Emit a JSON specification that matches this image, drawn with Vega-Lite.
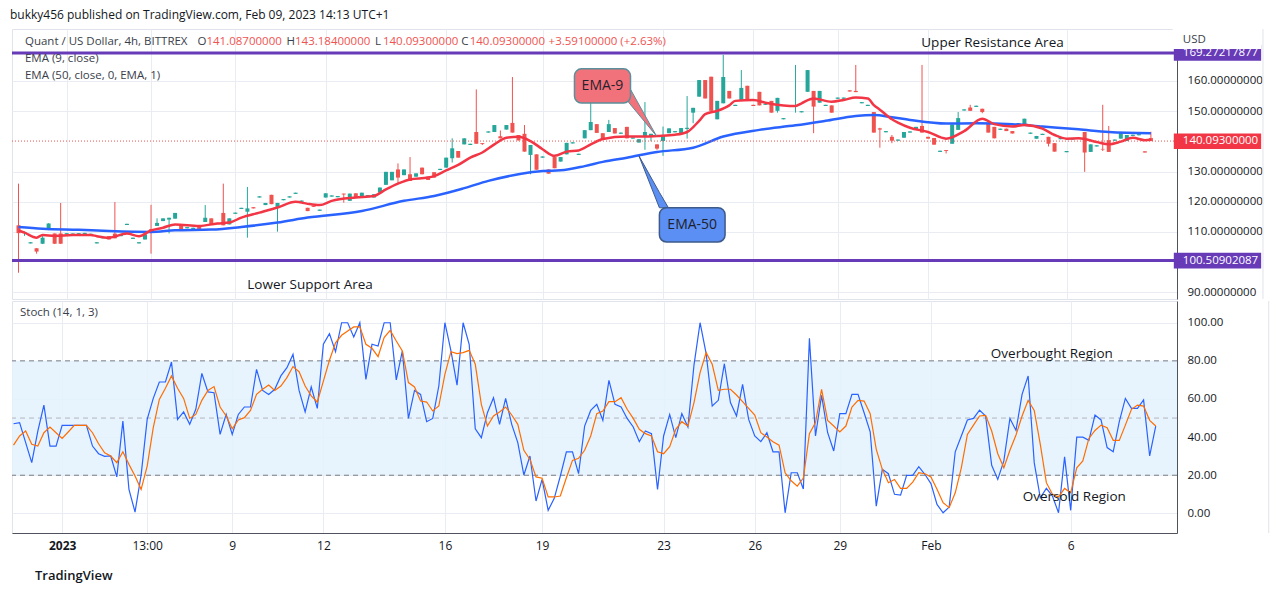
{
"$schema": "https://vega.github.io/schema/vega-lite/v6.json",
"background": "white",
"padding": {"left": 10, "top": 9, "right": 0, "bottom": 0},
"title": {"text": "bukky456 published on TradingView.com, Feb 09, 2023 14:13 UTC+1", "anchor": "start", "fontSize": 12, "fontWeight": "normal", "color": "#131722", "font": "Open Sans", "offset": 6},
"spacing": 0,
"data": {"values": [{}]},
"datasets": {
"bars": [
{"i":0,"o":112.2,"h":126,"l":96.5,"c":109.6,"k":47,"d":35.8},
{"i":1,"o":109.6,"h":110.2,"l":108.7,"c":110,"k":47.6,"d":40.6},
{"i":2,"o":106.2,"h":106.6,"l":106.2,"c":106.6,"k":37.1,"d":43.2},
{"i":3,"o":104.6,"h":104.6,"l":102.8,"c":103.5,"k":26.6,"d":36.2},
{"i":4,"o":106.1,"h":109.2,"l":106,"c":108.1,"k":43.2,"d":35.3},
{"i":5,"o":110.8,"h":112.9,"l":110.6,"c":112.8,"k":56.8,"d":42.3},
{"i":6,"o":109.5,"h":109.5,"l":106,"c":106.1,"k":35.3,"d":45.3},
{"i":7,"o":109.5,"h":119.6,"l":106,"c":106.1,"k":35.3,"d":42.3},
{"i":8,"o":109.2,"h":109.6,"l":109.2,"c":109.6,"k":46.2,"d":39.3},
{"i":9,"o":109.1,"h":109.5,"l":109.1,"c":109.5,"k":46.2,"d":42.7},
{"i":10,"o":109.2,"h":109.6,"l":109.2,"c":109.6,"k":46.2,"d":46.2},
{"i":11,"o":109.3,"h":109.7,"l":109.3,"c":109.7,"k":46.2,"d":46.2},
{"i":12,"o":109,"h":109.4,"l":109,"c":109.4,"k":46.2,"d":46.2},
{"i":13,"o":106.2,"h":106.6,"l":106.2,"c":106.6,"k":35.3,"d":42.3},
{"i":14,"o":107.9,"h":108.3,"l":107.9,"c":108.3,"k":31.3,"d":36.5},
{"i":15,"o":108.6,"h":108.6,"l":107.5,"c":107.5,"k":29.9,"d":31.8},
{"i":16,"o":109.45,"h":119.9,"l":107.9,"c":107.9,"k":30.1,"d":30.1},
{"i":17,"o":108.6,"h":109,"l":108.6,"c":109,"k":19.1,"d":26.6},
{"i":18,"o":112.3,"h":112.7,"l":112.3,"c":112.7,"k":48.4,"d":32.3},
{"i":19,"o":107.7,"h":108.1,"l":107.7,"c":108.1,"k":12.6,"d":25.7},
{"i":20,"o":106.2,"h":106.6,"l":106.2,"c":106.6,"k":0.7,"d":19.6},
{"i":21,"o":107.5,"h":109.2,"l":107.5,"c":109.2,"k":20.1,"d":12.6},
{"i":22,"o":110.9,"h":119,"l":102.8,"c":110.5,"k":49.3,"d":24.8},
{"i":23,"o":112,"h":114.5,"l":112,"c":113,"k":60.3,"d":45},
{"i":24,"o":113.6,"h":114.5,"l":113.6,"c":114.5,"k":68.9,"d":59.8},
{"i":25,"o":114.1,"h":114.7,"l":109.5,"c":114.7,"k":68.9,"d":65.6},
{"i":26,"o":114.4,"h":116.3,"l":114.4,"c":116.3,"k":79.4,"d":72.1},
{"i":27,"o":112.2,"h":112.2,"l":110.6,"c":110.6,"k":49.3,"d":65.6},
{"i":28,"o":111.2,"h":111.6,"l":111.2,"c":111.6,"k":53.2,"d":60.3},
{"i":29,"o":111,"h":111.4,"l":111,"c":111.4,"k":46.7,"d":49.8},
{"i":30,"o":112,"h":112,"l":111,"c":111,"k":54.6,"d":51.9},
{"i":31,"o":113.3,"h":118.9,"l":113.3,"c":114.7,"k":73.4,"d":59.3},
{"i":32,"o":114.5,"h":114.5,"l":112.5,"c":112.5,"k":63.7,"d":64.5},
{"i":33,"o":113,"h":113,"l":112.6,"c":112.6,"k":63.3,"d":66.5},
{"i":34,"o":116.3,"h":126,"l":112.2,"c":112.2,"k":41.4,"d":55.8},
{"i":35,"o":112.5,"h":114.5,"l":112.5,"c":114.5,"k":51.9,"d":51.1},
{"i":36,"o":116,"h":116.4,"l":116,"c":116.4,"k":41.4,"d":44.4},
{"i":37,"o":117.6,"h":118,"l":117.6,"c":118,"k":51.9,"d":49},
{"i":38,"o":116.7,"h":124.9,"l":108.1,"c":117.8,"k":55.8,"d":50.2},
{"i":39,"o":118.2,"h":118.2,"l":117.8,"c":117.8,"k":55.8,"d":54},
{"i":40,"o":121.4,"h":121.8,"l":121.4,"c":121.8,"k":75.5,"d":62.4},
{"i":41,"o":118.9,"h":119.6,"l":118.9,"c":119.6,"k":64.5,"d":65.1},
{"i":42,"o":122.3,"h":122.3,"l":119.2,"c":119.2,"k":62.4,"d":67.3},
{"i":43,"o":118.3,"h":119.6,"l":110.1,"c":119.6,"k":65.1,"d":64.5},
{"i":44,"o":120.5,"h":120.9,"l":120.5,"c":120.9,"k":72.1,"d":66.8},
{"i":45,"o":121.4,"h":121.8,"l":121.4,"c":121.8,"k":76.4,"d":71.2},
{"i":46,"o":122.6,"h":123,"l":122.6,"c":123,"k":83.4,"d":77},
{"i":47,"o":120,"h":120.4,"l":120,"c":120.4,"k":64.5,"d":74.3},
{"i":48,"o":118,"h":118,"l":116.9,"c":116.9,"k":53.2,"d":66.8},
{"i":49,"o":118.7,"h":118.7,"l":118.3,"c":118.3,"k":66.3,"d":61.6},
{"i":50,"o":117,"h":117.4,"l":117,"c":117.4,"k":55.1,"d":58.4},
{"i":51,"o":121.4,"h":122.8,"l":121.4,"c":122.8,"k":88.7,"d":69.4},
{"i":52,"o":121.7,"h":122.1,"l":121.7,"c":122.1,"k":94.3,"d":80.3},
{"i":53,"o":121.5,"h":121.9,"l":121.5,"c":121.9,"k":84.8,"d":89.5},
{"i":54,"o":122.7,"h":122.7,"l":119.7,"c":122.4,"k":100,"d":93.4},
{"i":55,"o":120.3,"h":122.7,"l":120.3,"c":122.7,"k":100,"d":95.7},
{"i":56,"o":122.8,"h":122.8,"l":121.4,"c":121.4,"k":92.5,"d":97.8},
{"i":57,"o":121.6,"h":123,"l":121.6,"c":123,"k":100,"d":97.8},
{"i":58,"o":121.8,"h":122.2,"l":121.8,"c":122.2,"k":70.3,"d":88.7},
{"i":59,"o":121.4,"h":122.5,"l":121.4,"c":122.5,"k":88.7,"d":86.6},
{"i":60,"o":123,"h":124.7,"l":123,"c":124.7,"k":87.8,"d":82.2},
{"i":61,"o":125.6,"h":129.9,"l":125.6,"c":129.9,"k":100,"d":92.2},
{"i":62,"o":127.1,"h":129.9,"l":127.1,"c":129.9,"k":100,"d":96},
{"i":63,"o":130.7,"h":132.7,"l":125.8,"c":128,"k":70,"d":90.4},
{"i":64,"o":128.8,"h":130.7,"l":128.8,"c":130.7,"k":85.2,"d":85.2},
{"i":65,"o":129.1,"h":134.8,"l":126.9,"c":126.9,"k":49.8,"d":68.6},
{"i":66,"o":128.3,"h":129.4,"l":128.3,"c":129.4,"k":64.5,"d":66.3},
{"i":67,"o":131.3,"h":131.3,"l":129.1,"c":129.1,"k":62.4,"d":58.9},
{"i":68,"o":128.3,"h":128.3,"l":127.2,"c":127.2,"k":48.1,"d":58.4},
{"i":69,"o":129.8,"h":129.8,"l":128,"c":128,"k":49.8,"d":53.7},
{"i":70,"o":130.5,"h":130.9,"l":130.5,"c":130.9,"k":66.8,"d":56.3},
{"i":71,"o":131.3,"h":134.6,"l":131.3,"c":134.6,"k":100,"d":72.9},
{"i":72,"o":134.4,"h":141,"l":133,"c":137.7,"k":85.2,"d":84.8},
{"i":73,"o":136.8,"h":136.8,"l":134.6,"c":134.6,"k":67.3,"d":83.8},
{"i":74,"o":139,"h":141,"l":139,"c":141,"k":100,"d":84.3},
{"i":75,"o":138.8,"h":139.2,"l":138.8,"c":139.2,"k":88.7,"d":85.5},
{"i":76,"o":143.1,"h":157.2,"l":139.2,"c":139.2,"k":44.4,"d":78.2},
{"i":77,"o":139.4,"h":139.4,"l":138.8,"c":139.1,"k":39.7,"d":57.2},
{"i":78,"o":142.9,"h":143.3,"l":142.9,"c":143.3,"k":52.8,"d":45.8},
{"i":79,"o":143.1,"h":145.4,"l":143.1,"c":145.4,"k":60.7,"d":51.1},
{"i":80,"o":141.7,"h":143.6,"l":141,"c":141,"k":46.7,"d":53.2},
{"i":81,"o":143.9,"h":145.4,"l":143.9,"c":145.4,"k":60.3,"d":55.8},
{"i":82,"o":146.1,"h":161.3,"l":142.9,"c":142.9,"k":46.7,"d":51.6},
{"i":83,"o":142.1,"h":142.1,"l":140.3,"c":140.3,"k":37.1,"d":46.7},
{"i":84,"o":142.5,"h":145.4,"l":136.6,"c":136.6,"k":20.1,"d":33.1},
{"i":85,"o":135.5,"h":138.8,"l":129.1,"c":138.8,"k":30.1,"d":28.3},
{"i":86,"o":135.7,"h":135.7,"l":130.6,"c":130.6,"k":6.5,"d":19.1},
{"i":87,"o":134.6,"h":135,"l":134.6,"c":135,"k":17.8,"d":18.4},
{"i":88,"o":130.7,"h":130.7,"l":129.3,"c":129.3,"k":1.6,"d":8.6},
{"i":89,"o":134.8,"h":134.8,"l":131.1,"c":131.1,"k":7.9,"d":8.6},
{"i":90,"o":133.3,"h":134.8,"l":133.3,"c":134.8,"k":19.6,"d":9.1},
{"i":91,"o":135.7,"h":139.5,"l":135.7,"c":139.5,"k":32.3,"d":18.7},
{"i":92,"o":139.3,"h":139.7,"l":139.3,"c":139.7,"k":32.3,"d":27.8},
{"i":93,"o":135.5,"h":135.9,"l":135.5,"c":135.9,"k":20.8,"d":28.9},
{"i":94,"o":141,"h":143.7,"l":141,"c":143.7,"k":45.8,"d":33.1},
{"i":95,"o":143.7,"h":152.8,"l":143.7,"c":146.4,"k":54,"d":40.6},
{"i":96,"o":145.7,"h":145.7,"l":142.8,"c":142.8,"k":57.2,"d":52.3},
{"i":97,"o":142.7,"h":142.7,"l":140.5,"c":140.5,"k":48.8,"d":53.7},
{"i":98,"o":143.1,"h":147.1,"l":143.1,"c":145.7,"k":69.8,"d":58.6},
{"i":99,"o":144.4,"h":144.4,"l":142.6,"c":142.6,"k":57.2,"d":58.6},
{"i":100,"o":142.5,"h":142.9,"l":142.5,"c":142.9,"k":55.8,"d":60.7},
{"i":101,"o":144.8,"h":144.8,"l":141,"c":141,"k":49.8,"d":54.6},
{"i":102,"o":140.9,"h":141.3,"l":140.9,"c":141.3,"k":45.3,"d":49.8},
{"i":103,"o":139.6,"h":140.7,"l":139.6,"c":140.7,"k":37.6,"d":44.1},
{"i":104,"o":141.8,"h":153,"l":137.2,"c":143.1,"k":43.2,"d":41.8},
{"i":105,"o":141.8,"h":142.5,"l":140,"c":142.5,"k":41.8,"d":40.6},
{"i":106,"o":139,"h":139,"l":137.2,"c":137.6,"k":12.6,"d":32.3},
{"i":107,"o":140.1,"h":144.9,"l":135.2,"c":141.8,"k":40.6,"d":31.3},
{"i":108,"o":142.7,"h":144.3,"l":142.7,"c":144.3,"k":51.9,"d":35},
{"i":109,"o":143,"h":143.4,"l":143,"c":143.4,"k":39.7,"d":44.1},
{"i":110,"o":142.7,"h":144.4,"l":142.7,"c":144.4,"k":52.3,"d":48.1},
{"i":111,"o":144.1,"h":155,"l":140.9,"c":144.5,"k":45.3,"d":45.8},
{"i":112,"o":149.5,"h":151.1,"l":146,"c":151.1,"k":77.8,"d":58.1},
{"i":113,"o":154.8,"h":160.3,"l":154.8,"c":160.3,"k":100,"d":73.8},
{"i":114,"o":160.3,"h":160.3,"l":154.2,"c":154.2,"k":83.8,"d":84.3},
{"i":115,"o":161.4,"h":161.4,"l":150.1,"c":150.1,"k":56.3,"d":78.2},
{"i":116,"o":147.3,"h":153.4,"l":147.3,"c":153.4,"k":59.3,"d":64.5},
{"i":117,"o":152.6,"h":168.6,"l":152.6,"c":161.3,"k":78.5,"d":65.1},
{"i":118,"o":156.7,"h":156.7,"l":154.2,"c":154.2,"k":58.1,"d":65.1},
{"i":119,"o":151.7,"h":152.1,"l":151.7,"c":152.1,"k":51.1,"d":62.1},
{"i":120,"o":153.7,"h":163.6,"l":153.7,"c":157.7,"k":67.7,"d":58.6},
{"i":121,"o":158.4,"h":158.4,"l":153.9,"c":153.9,"k":49.3,"d":55.1},
{"i":122,"o":152.1,"h":152.1,"l":151.7,"c":151.7,"k":40.6,"d":51.6},
{"i":123,"o":156.4,"h":156.4,"l":151.9,"c":151.9,"k":37.6,"d":42.3},
{"i":124,"o":152.1,"h":152.5,"l":152.1,"c":152.5,"k":42.3,"d":40.1},
{"i":125,"o":153.4,"h":153.4,"l":149.5,"c":149.5,"k":32.3,"d":37.6},
{"i":126,"o":150.1,"h":154.4,"l":149.5,"c":154.4,"k":32.3,"d":35.8},
{"i":127,"o":147.3,"h":147.7,"l":147.3,"c":147.7,"k":0.3,"d":21.3},
{"i":128,"o":151.5,"h":151.9,"l":151.5,"c":151.9,"k":21.3,"d":17.1},
{"i":129,"o":151.6,"h":165.3,"l":149.5,"c":152,"k":21.3,"d":14.3},
{"i":130,"o":149.6,"h":150,"l":149.6,"c":150,"k":12.8,"d":18.5},
{"i":131,"o":156.4,"h":163.6,"l":156.4,"c":163.6,"k":91.8,"d":41.8},
{"i":132,"o":156.7,"h":156.7,"l":142.7,"c":151.5,"k":40.6,"d":47.6},
{"i":133,"o":152.8,"h":156.7,"l":152.8,"c":156.7,"k":61.9,"d":65.1},
{"i":134,"o":151.7,"h":152.1,"l":151.7,"c":152.1,"k":42.3,"d":48.8},
{"i":135,"o":151.9,"h":151.9,"l":149.5,"c":149.5,"k":32.7,"d":45.8},
{"i":136,"o":154.1,"h":154.5,"l":154.1,"c":154.5,"k":52.3,"d":42.7},
{"i":137,"o":154.1,"h":154.5,"l":154.1,"c":154.5,"k":52.3,"d":45.8},
{"i":138,"o":156.9,"h":156.9,"l":156.5,"c":156.5,"k":62.4,"d":55.8},
{"i":139,"o":156.7,"h":165.3,"l":156.3,"c":156.3,"k":62.4,"d":59.3},
{"i":140,"o":152.6,"h":153,"l":152.6,"c":153,"k":52.8,"d":58.9},
{"i":141,"o":151.7,"h":152.1,"l":151.7,"c":152.1,"k":42.8,"d":52.3},
{"i":142,"o":149.7,"h":149.7,"l":142.9,"c":142.9,"k":3.8,"d":33.6},
{"i":143,"o":144.3,"h":144.5,"l":137.9,"c":143.9,"k":23.1,"d":23.1},
{"i":144,"o":143,"h":143.4,"l":143,"c":143.4,"k":20.8,"d":16.1},
{"i":145,"o":141.5,"h":142.1,"l":139.4,"c":140.2,"k":10,"d":17.8},
{"i":146,"o":140.2,"h":140.6,"l":140.2,"c":140.6,"k":9.6,"d":13.1},
{"i":147,"o":141.2,"h":143.1,"l":141.2,"c":143.1,"k":19.9,"d":13.1},
{"i":148,"o":142.9,"h":143.3,"l":142.9,"c":143.3,"k":19.9,"d":16.4},
{"i":149,"o":144,"h":144.8,"l":144,"c":144.8,"k":24.5,"d":21.3},
{"i":150,"o":145.1,"h":165.3,"l":142.9,"c":142.9,"k":20.5,"d":20.8},
{"i":151,"o":141.5,"h":141.5,"l":140.9,"c":140.9,"k":15.6,"d":19.1},
{"i":152,"o":141.1,"h":141.1,"l":138.9,"c":138.9,"k":4.7,"d":12.6},
{"i":153,"o":136.5,"h":136.9,"l":136.5,"c":136.9,"k":0.3,"d":5.6},
{"i":154,"o":137.1,"h":137.1,"l":136,"c":136.8,"k":3.3,"d":3},
{"i":155,"o":139.2,"h":145.6,"l":139.2,"c":145.6,"k":32.3,"d":10.8},
{"i":156,"o":143.8,"h":149.7,"l":143.8,"c":147.7,"k":40.6,"d":23.9},
{"i":157,"o":150.2,"h":150.6,"l":150.2,"c":150.6,"k":49,"d":41.4},
{"i":158,"o":151.2,"h":152.1,"l":150.1,"c":150.1,"k":49.8,"d":46.3},
{"i":159,"o":151.4,"h":151.8,"l":151.4,"c":151.8,"k":54.2,"d":51.1},
{"i":160,"o":150.8,"h":150.8,"l":149.3,"c":149.7,"k":51.1,"d":51.4},
{"i":161,"o":146.2,"h":146.2,"l":142.9,"c":142.9,"k":25.2,"d":43.2},
{"i":162,"o":144.8,"h":144.8,"l":141,"c":141,"k":17.8,"d":31.3},
{"i":163,"o":143.8,"h":144.2,"l":143.8,"c":144.2,"k":27.5,"d":23.9},
{"i":164,"o":144.2,"h":144.2,"l":143.4,"c":143.4,"k":49.8,"d":33.1},
{"i":165,"o":143.4,"h":143.4,"l":142.6,"c":142.6,"k":43.5,"d":41.1},
{"i":166,"o":145.1,"h":146,"l":145.1,"c":146,"k":62.4,"d":51.1},
{"i":167,"o":145.7,"h":147.5,"l":145.7,"c":147.5,"k":72.1,"d":59.3},
{"i":168,"o":142.5,"h":142.9,"l":142.5,"c":142.9,"k":26.6,"d":54},
{"i":169,"o":140.9,"h":141.8,"l":140.9,"c":141.8,"k":8.2,"d":36.2},
{"i":170,"o":142.1,"h":142.5,"l":142.1,"c":142.5,"k":13.1,"d":16.1},
{"i":171,"o":141.5,"h":141.5,"l":138.3,"c":139.2,"k":9.1,"d":10},
{"i":172,"o":139.4,"h":139.4,"l":136.6,"c":136.6,"k":0.3,"d":8.6},
{"i":173,"o":140.7,"h":141.1,"l":140.7,"c":141.1,"k":29.6,"d":13.1},
{"i":174,"o":136.4,"h":136.8,"l":136.4,"c":136.8,"k":1.6,"d":10.8},
{"i":175,"o":140.6,"h":141,"l":140.6,"c":141,"k":40,"d":23.9},
{"i":176,"o":140.8,"h":141.2,"l":140.8,"c":141.2,"k":40,"d":27.5},
{"i":177,"o":143.1,"h":143.1,"l":129.9,"c":136.3,"k":38.3,"d":39.3},
{"i":178,"o":136.5,"h":139,"l":136.5,"c":139,"k":51.6,"d":43.5},
{"i":179,"o":138.3,"h":138.7,"l":138.3,"c":138.7,"k":49,"d":46.3},
{"i":180,"o":137.5,"h":152.1,"l":136.8,"c":137.3,"k":34.5,"d":44.9},
{"i":181,"o":140.4,"h":145.1,"l":136.5,"c":136.5,"k":32.3,"d":38.3},
{"i":182,"o":140.2,"h":140.6,"l":140.2,"c":140.6,"k":48.1,"d":38.3},
{"i":183,"o":140.9,"h":143.1,"l":140.9,"c":143.1,"k":60.3,"d":46.3},
{"i":184,"o":140.1,"h":142.1,"l":140.1,"c":142.1,"k":55.1,"d":54.6},
{"i":185,"o":141.8,"h":142.2,"l":141.8,"c":142.2,"k":55.1,"d":56.8},
{"i":186,"o":142,"h":142.4,"l":142,"c":142.4,"k":59.5,"d":56.3},
{"i":187,"o":136.7,"h":136.7,"l":136.3,"c":136.3,"k":30.1,"d":48.8},
{"i":188,"o":141.087,"h":143.184,"l":140.093,"c":140.093,"k":45.8,"d":45.8}
],
"ema9": [
{"i":0,"v":110.5},{"i":1,"v":109.8},{"i":3,"v":108.1},{"i":4,"v":109},{"i":6,"v":108.7},{"i":9,"v":109},{"i":12,"v":109},{"i":13,"v":108.6},{"i":15,"v":108.1},{"i":18,"v":109.45},{"i":20,"v":108.6},{"i":22,"v":110.5},{"i":24,"v":111.4},{"i":26,"v":112.5},{"i":30,"v":112},{"i":33,"v":112.8},{"i":35,"v":113.1},{"i":37,"v":114.75},{"i":40,"v":116.4},{"i":43,"v":118.1},{"i":46,"v":120},{"i":48,"v":119.3},{"i":50,"v":118.9},{"i":52,"v":120.3},{"i":56,"v":121.4},{"i":59,"v":121.9},{"i":61,"v":124.1},{"i":63,"v":126},{"i":65,"v":127.4},{"i":68,"v":128},{"i":69,"v":128.5},{"i":71,"v":130.4},{"i":73,"v":132.2},{"i":75,"v":134.6},{"i":77,"v":136.3},{"i":79,"v":139},{"i":81,"v":141.2},{"i":83,"v":141.5},{"i":85,"v":140.1},{"i":87,"v":137.4},{"i":89,"v":135.2},{"i":91,"v":136.6},{"i":93,"v":137},{"i":95,"v":139},{"i":97,"v":140.8},{"i":101,"v":141.6},{"i":104,"v":141.6},{"i":106,"v":141.8},{"i":109,"v":142.2},{"i":111,"v":143.1},{"i":113,"v":146.8},{"i":114,"v":149},{"i":116,"v":150.1},{"i":118,"v":151.9},{"i":119,"v":153.4},{"i":122,"v":153.7},{"i":124,"v":152.8},{"i":127,"v":151.9},{"i":129,"v":151.7},{"i":130,"v":152.6},{"i":132,"v":154.2},{"i":135,"v":153.1},{"i":137,"v":153.7},{"i":139,"v":154.5},{"i":141,"v":154.2},{"i":142,"v":152},{"i":143,"v":150.5},{"i":145,"v":147.3},{"i":146,"v":146.2},{"i":148,"v":144.5},{"i":151,"v":143.1},{"i":154,"v":140.9},{"i":157,"v":143.4},{"i":160,"v":147.5},{"i":162,"v":145.7},{"i":165,"v":144.9},{"i":167,"v":145.4},{"i":170,"v":144.2},{"i":172,"v":142.1},{"i":174,"v":140.9},{"i":176,"v":141},{"i":179,"v":139.8},{"i":181,"v":139},{"i":183,"v":139.9},{"i":185,"v":141.2},{"i":187,"v":140.4},{"i":188,"v":140.5}
],
"ema50": [
{"i":0,"v":111.65},{"i":4,"v":111.1},{"i":10,"v":110.7},{"i":15,"v":110.3},{"i":22,"v":110},{"i":26,"v":110.55},{"i":32,"v":110.8},{"i":37,"v":111.65},{"i":43,"v":113.1},{"i":48,"v":114.75},{"i":57,"v":116.95},{"i":64,"v":120.3},{"i":69,"v":121.9},{"i":74,"v":124.5},{"i":78,"v":126.9},{"i":83,"v":129.1},{"i":87,"v":130.2},{"i":90,"v":130.4},{"i":94,"v":131.8},{"i":97,"v":133.2},{"i":101,"v":134.6},{"i":106,"v":136.5},{"i":112,"v":137.9},{"i":117,"v":141.6},{"i":123,"v":143.8},{"i":129,"v":145.3},{"i":134,"v":146.8},{"i":139,"v":148.4},{"i":142,"v":148.7},{"i":145,"v":148},{"i":148,"v":147.1},{"i":154,"v":145.9},{"i":159,"v":146},{"i":165,"v":145.7},{"i":170,"v":144.9},{"i":176,"v":144},{"i":181,"v":143.1},{"i":188,"v":142.7}
]
},
"vconcat": [
{
"width": 1165,
"height": 270,
"layer": [
{
"data": {"name": "bars"},
"mark": {"type": "rule", "strokeWidth": 1},
"encoding": {
"x": {"field": "i", "type": "quantitative", "scale": {"domain": [-0.25, 191.5], "nice": false, "zero": false}, "axis": {"values": [8,22,36,51,71,87,107,122,136,151,174], "labels": false, "ticks": false, "domain": false, "grid": true, "title": null}},
"y": {"field": "l", "type": "quantitative", "scale": {"domain": [87.8, 177.2], "nice": false, "zero": false}, "axis": {"orient": "right", "values": [90,110,120,130,150,160], "format": ".8f", "labelOverlap": false, "labelPadding": 10, "domain": true, "grid": true, "title": null}},
"y2": {"field": "h"},
"color": {"condition": {"test": "datum.c >= datum.o", "value": "#26a69a"}, "value": "#ef5350"}
}
},
{
"data": {"name": "bars"},
"mark": {"type": "bar", "size": 4},
"encoding": {
"x": {"field": "i", "type": "quantitative"},
"y": {"field": "o", "type": "quantitative"},
"y2": {"field": "c"},
"color": {"condition": {"test": "datum.c >= datum.o", "value": "#26a69a"}, "value": "#ef5350"}
}
},
{
"data": {"name": "ema50"},
"mark": {"type": "line", "color": "#2962ff", "strokeWidth": 2.5, "interpolate": "monotone"},
"encoding": {"x": {"field": "i", "type": "quantitative"}, "y": {"field": "v", "type": "quantitative"}}
},
{
"data": {"name": "ema9"},
"mark": {"type": "line", "color": "#f23645", "strokeWidth": 2.5, "interpolate": "monotone"},
"encoding": {"x": {"field": "i", "type": "quantitative"}, "y": {"field": "v", "type": "quantitative"}}
},
{
"mark": {"type": "rule", "color": "#ef5350", "strokeWidth": 1, "strokeDash": [1, 2]},
"encoding": {"y": {"datum": 140.093, "type": "quantitative"}}
},
{
"mark": {"type": "rule", "color": "#673ab7", "strokeWidth": 3},
"encoding": {"y": {"datum": 169.272, "type": "quantitative"}}
},
{
"mark": {"type": "rule", "color": "#673ab7", "strokeWidth": 3},
"encoding": {"y": {"datum": 100.509, "type": "quantitative"}}
},
{
"mark": {"type": "rule", "color": "#e0e3eb", "strokeWidth": 1, "clip": false},
"encoding": {"x": {"datum": 206.6, "type": "quantitative"}}
},
{
"mark": {"type": "text", "align": "left", "baseline": "middle", "fontSize": 11.5, "color": "#3a3e4a"},
"encoding": {"x": {"datum": 1.07}, "y": {"datum": 172.9}, "text": {"value": "Quant / US Dollar, 4h, BITTREX"}}
},
{
"mark": {"type": "text", "align": "left", "baseline": "middle", "fontSize": 11.5, "color": "#3a3e4a"},
"encoding": {"x": {"datum": 29.7}, "y": {"datum": 172.9}, "text": {"value": "O"}}
},
{
"mark": {"type": "text", "align": "left", "baseline": "middle", "fontSize": 11.5, "color": "#ef5350"},
"encoding": {"x": {"datum": 31.2}, "y": {"datum": 172.9}, "text": {"value": "141.08700000"}}
},
{
"mark": {"type": "text", "align": "left", "baseline": "middle", "fontSize": 11.5, "color": "#3a3e4a"},
"encoding": {"x": {"datum": 44.5}, "y": {"datum": 172.9}, "text": {"value": "H"}}
},
{
"mark": {"type": "text", "align": "left", "baseline": "middle", "fontSize": 11.5, "color": "#ef5350"},
"encoding": {"x": {"datum": 45.9}, "y": {"datum": 172.9}, "text": {"value": "143.18400000"}}
},
{
"mark": {"type": "text", "align": "left", "baseline": "middle", "fontSize": 11.5, "color": "#3a3e4a"},
"encoding": {"x": {"datum": 59.2}, "y": {"datum": 172.9}, "text": {"value": "L"}}
},
{
"mark": {"type": "text", "align": "left", "baseline": "middle", "fontSize": 11.5, "color": "#ef5350"},
"encoding": {"x": {"datum": 60.5}, "y": {"datum": 172.9}, "text": {"value": "140.09300000"}}
},
{
"mark": {"type": "text", "align": "left", "baseline": "middle", "fontSize": 11.5, "color": "#3a3e4a"},
"encoding": {"x": {"datum": 73.5}, "y": {"datum": 172.9}, "text": {"value": "C"}}
},
{
"mark": {"type": "text", "align": "left", "baseline": "middle", "fontSize": 11.5, "color": "#ef5350"},
"encoding": {"x": {"datum": 74.9}, "y": {"datum": 172.9}, "text": {"value": "140.09300000"}}
},
{
"mark": {"type": "text", "align": "left", "baseline": "middle", "fontSize": 11.5, "color": "#ef5350"},
"encoding": {"x": {"datum": 88.0}, "y": {"datum": 172.9}, "text": {"value": "+3.59100000 (+2.63%)"}}
},
{
"mark": {"type": "text", "align": "left", "baseline": "middle", "fontSize": 11.5, "color": "#3a3e4a"},
"encoding": {"x": {"datum": 1.07}, "y": {"datum": 167.3}, "text": {"value": "EMA (9, close)"}}
},
{
"mark": {"type": "text", "align": "left", "baseline": "middle", "fontSize": 11.5, "color": "#3a3e4a"},
"encoding": {"x": {"datum": 1.07}, "y": {"datum": 161.7}, "text": {"value": "EMA (50, close, 0, EMA, 1)"}}
},
{
"mark": {"type": "text", "align": "center", "baseline": "middle", "fontSize": 13.5, "color": "#131722"},
"encoding": {"x": {"datum": 161.7}, "y": {"datum": 172.4}, "text": {"value": "Upper Resistance Area"}}
},
{
"mark": {"type": "text", "align": "center", "baseline": "middle", "fontSize": 13.5, "color": "#131722"},
"encoding": {"x": {"datum": 48.4}, "y": {"datum": 92.45}, "text": {"value": "Lower Support Area"}}
},
{
"data": {"values": [{"i": 101.3, "a": 158.3, "b": 152.9}, {"i": 105.9, "a": 141.8, "b": 141.8}]},
"mark": {"type": "area", "color": "#f2727b", "stroke": "#5a8f9b", "strokeWidth": 1, "opacity": 1},
"encoding": {"x": {"field": "i", "type": "quantitative"}, "y": {"field": "a", "type": "quantitative"}, "y2": {"field": "b"}}
},
{
"mark": {"type": "rect", "color": "#f2727b", "stroke": "#5a8f9b", "strokeWidth": 1.5, "cornerRadius": 7},
"encoding": {"x": {"datum": 92.3}, "x2": {"datum": 101.6}, "y": {"datum": 164.0}, "y2": {"datum": 152.7}}
},
{
"mark": {"type": "text", "align": "center", "baseline": "middle", "fontSize": 14, "color": "#1e222d"},
"encoding": {"x": {"datum": 96.95}, "y": {"datum": 158.3}, "text": {"value": "EMA-9"}}
},
{
"data": {"values": [{"i": 103, "a": 135.2, "b": 135.2}, {"i": 106.4, "a": 123.1, "b": 118.0}, {"i": 107.9, "a": 118.0, "b": 118.0}]},
"mark": {"type": "area", "color": "#5b8ff3", "stroke": "#3d5a8a", "strokeWidth": 1, "opacity": 1},
"encoding": {"x": {"field": "i", "type": "quantitative"}, "y": {"field": "a", "type": "quantitative"}, "y2": {"field": "b"}}
},
{
"mark": {"type": "rect", "color": "#5b8ff3", "stroke": "#3d5a8a", "strokeWidth": 1.5, "cornerRadius": 7},
"encoding": {"x": {"datum": 106.4}, "x2": {"datum": 117.3}, "y": {"datum": 118.0}, "y2": {"datum": 106.7}}
},
{
"mark": {"type": "text", "align": "center", "baseline": "middle", "fontSize": 14, "color": "#1e222d"},
"encoding": {"x": {"datum": 111.85}, "y": {"datum": 112.3}, "text": {"value": "EMA-50"}}
},
{
"mark": {"type": "rect", "color": "#f23645"},
"encoding": {"x": {"datum": 191.8}, "x2": {"datum": 206.3}, "y": {"datum": 142.6}, "y2": {"datum": 137.5}}
},
{
"mark": {"type": "text", "align": "left", "baseline": "middle", "fontSize": 11.5, "color": "white"},
"encoding": {"x": {"datum": 193.3}, "y": {"datum": 140.05}, "text": {"value": "140.09300000"}}
},
{
"mark": {"type": "rect", "color": "#673ab7"},
"encoding": {"x": {"datum": 191.8}, "x2": {"datum": 206.3}, "y": {"datum": 103.1}, "y2": {"datum": 97.9}}
},
{
"mark": {"type": "text", "align": "left", "baseline": "middle", "fontSize": 11.5, "color": "white"},
"encoding": {"x": {"datum": 193.3}, "y": {"datum": 100.5}, "text": {"value": "100.50902087"}}
},
{
"mark": {"type": "rect", "color": "#673ab7"},
"encoding": {"x": {"datum": 191.8}, "x2": {"datum": 206.3}, "y": {"datum": 171.9}, "y2": {"datum": 166.7}}
},
{
"mark": {"type": "text", "align": "left", "baseline": "middle", "fontSize": 11.5, "color": "white"},
"encoding": {"x": {"datum": 193.3}, "y": {"datum": 169.27}, "text": {"value": "169.27217877"}}
},
{
"mark": {"type": "rect", "color": "white"},
"encoding": {"x": {"datum": 191.6}, "x2": {"datum": 206.3}, "y": {"datum": 177.2}, "y2": {"datum": 170.6}}
},
{
"mark": {"type": "text", "align": "left", "baseline": "middle", "fontSize": 11.5, "color": "#3a3e4a"},
"encoding": {"x": {"datum": 193.3}, "y": {"datum": 173.5}, "text": {"value": "USD"}}
}
]
},
{
"width": 1165,
"height": 232,
"title": {"text": "TradingView", "orient": "bottom", "anchor": "start", "frame": "group", "fontSize": 13, "fontWeight": 600, "color": "#131722", "dx": 23, "offset": 19},
"layer": [
{
"mark": {"type": "rect", "color": "#e3f2fd", "opacity": 0.85},
"encoding": {
"x": {"datum": -0.25, "type": "quantitative", "scale": {"domain": [-0.25, 191.5], "nice": false, "zero": false}, "axis": {"values": [8,22,36,51,71,87,107,122,136,151,174], "labelExpr": "datum.value==8?'2023':datum.value==22?'13:00':datum.value==36?'9':datum.value==51?'12':datum.value==71?'16':datum.value==87?'19':datum.value==107?'23':datum.value==122?'26':datum.value==136?'29':datum.value==151?'Feb':datum.value==174?'6':''", "labelFontWeight": {"condition": {"test": "datum.value==8", "value": "bold"}, "value": "normal"}, "labelOverlap": false, "labelFontSize": 12, "labelPadding": 7, "domain": true, "grid": true, "title": null}},
"x2": {"datum": 191.5},
"y": {"datum": 80, "type": "quantitative", "scale": {"domain": [-10.3, 111.4], "nice": false, "zero": false}, "axis": {"orient": "right", "values": [0,20,40,60,80,100], "format": ".2f", "labelOverlap": false, "labelPadding": 10, "domain": true, "grid": true, "title": null}},
"y2": {"datum": 20}
}
},
{
"mark": {"type": "rule", "color": "#787b86", "strokeWidth": 1, "strokeDash": [5, 4]},
"encoding": {"y": {"datum": 80, "type": "quantitative"}}
},
{
"mark": {"type": "rule", "color": "#787b86", "strokeWidth": 1, "strokeDash": [5, 4]},
"encoding": {"y": {"datum": 20, "type": "quantitative"}}
},
{
"mark": {"type": "rule", "color": "#b2b5be", "strokeWidth": 1, "strokeDash": [5, 4]},
"encoding": {"y": {"datum": 50, "type": "quantitative"}}
},
{
"mark": {"type": "rule", "color": "#e0e3eb", "strokeWidth": 1, "clip": false},
"encoding": {"x": {"datum": 206.6, "type": "quantitative"}}
},
{
"data": {"name": "bars"},
"mark": {"type": "line", "color": "#2962ff", "strokeWidth": 1.2},
"encoding": {"x": {"field": "i", "type": "quantitative"}, "y": {"field": "k", "type": "quantitative"}}
},
{
"data": {"name": "bars"},
"mark": {"type": "line", "color": "#ff6d00", "strokeWidth": 1.2},
"encoding": {"x": {"field": "i", "type": "quantitative"}, "y": {"field": "d", "type": "quantitative"}}
},
{
"mark": {"type": "text", "align": "left", "baseline": "middle", "fontSize": 11.5, "color": "#3a3e4a"},
"encoding": {"x": {"datum": 1.07}, "y": {"datum": 105.1}, "text": {"value": "Stoch (14, 1, 3)"}}
},
{
"mark": {"type": "text", "align": "center", "baseline": "middle", "fontSize": 13.5, "color": "#131722"},
"encoding": {"x": {"datum": 170.9}, "y": {"datum": 83.6}, "text": {"value": "Overbought Region"}}
},
{
"mark": {"type": "text", "align": "center", "baseline": "middle", "fontSize": 13.5, "color": "#131722"},
"encoding": {"x": {"datum": 174.6}, "y": {"datum": 8.6}, "text": {"value": "Oversold Region"}}
}
]
}
],
"config": {
"font": "Open Sans",
"view": {"stroke": "#e0e3eb", "strokeWidth": 1},
"axis": {"gridColor": "#e9edf3", "gridWidth": 1, "labelColor": "#131722", "labelFontSize": 11.5, "labelFont": "Open Sans", "domainColor": "#50535e", "tickSize": 0, "ticks": false, "labelOverlap": false},
"text": {"font": "Open Sans"}
}
}
